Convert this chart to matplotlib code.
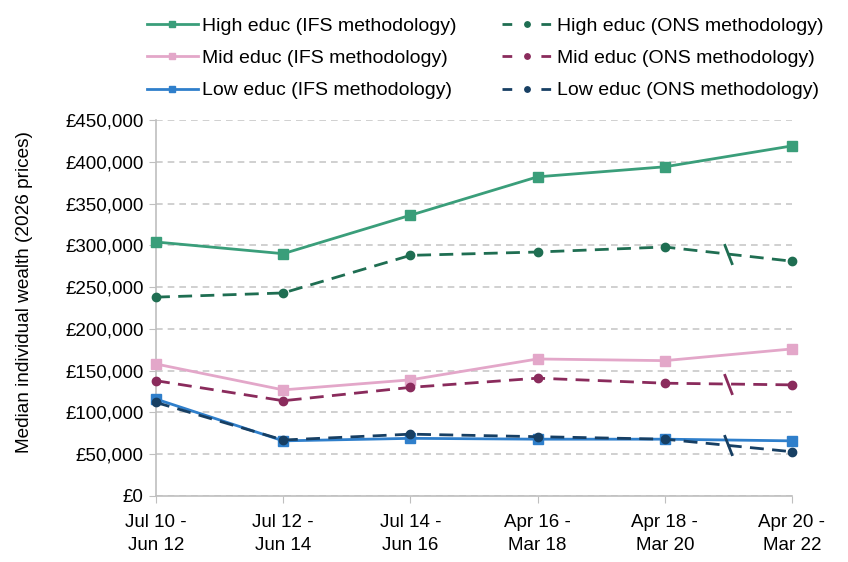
import matplotlib
matplotlib.use("Agg")
import matplotlib.pyplot as plt
from matplotlib.ticker import FuncFormatter
import numpy as np

periods = ["Jul 10 -\nJun 12", "Jul 12 -\nJun 14", "Jul 14 -\nJun 16",
           "Apr 16 -\nMar 18", "Apr 18 -\nMar 20", "Apr 20 -\nMar 22"]

high_ifs = [304000, 290000, 336000, 382000, 394000, 419000]
high_ons = [238000, 243000, 288000, 292000, 298000, 281000]
mid_ifs = [158000, 127000, 139000, 164000, 162000, 176000]
mid_ons = [138000, 114000, 130000, 141000, 135000, 133000]
low_ifs = [116000, 66000, 69000, 68000, 68000, 66000]
low_ons = [112000, 67000, 74000, 71000, 68000, 53000]

series = [
    ("High educ (IFS methodology)", high_ifs, "#3a9e7a", "-", "s"),
    ("High educ (ONS methodology)", high_ons, "#1f6e52", "--", "o"),
    ("Mid educ (IFS methodology)", mid_ifs, "#e3a7c9", "-", "s"),
    ("Mid educ (ONS methodology)", mid_ons, "#8a2b5c", "--", "o"),
    ("Low educ (IFS methodology)", low_ifs, "#2f7fcb", "-", "s"),
    ("Low educ (ONS methodology)", low_ons, "#173f63", "--", "o"),
]

plt.rcParams['font.family'] = ['Liberation Sans', 'DejaVu Sans']

fig = plt.figure(figsize=(8.48, 5.62), dpi=100)
ax = fig.add_axes([156/848, 1-496/562, (792-156)/848, (496-120)/562])

x = np.arange(len(periods))
handles = {}
for label, vals, col, ls, mk in series:
    ms = 6.5 if mk == "s" else 6
    (h,) = ax.plot(x, vals, color=col, linestyle=ls, marker=mk, markersize=ms,
                   linewidth=2, label=label, zorder=3, clip_on=False)
    if ls == "--":
        h.set_dashes((5, 3))
        bx = (x[-2] + x[-1]) / 2
        by = (vals[-2] + vals[-1]) / 2
        ax.plot([bx], [by], marker=[(-0.35, 0.9), (0.35, -0.9)], markersize=15,
                color=col, markeredgewidth=2, linestyle="none", zorder=4)
    handles[label] = h

ax.set_xlim(0, 5)
ax.set_ylim(0, 450000)
ax.set_yticks(np.arange(0, 450001, 50000))
ax.yaxis.set_major_formatter(FuncFormatter(lambda v, p: "£{:,.0f}".format(v)))
ax.set_xticks(x)
ax.set_xticklabels(periods, linespacing=1.45)
ax.tick_params(axis="both", labelsize=13.5, length=5, color="#bfbfbf", labelcolor="black")
ax.tick_params(axis="x", pad=8)
ax.tick_params(axis="y", pad=4)

ax.grid(axis="y", color="#c8c8c8", linestyle=(0, (4, 3)), linewidth=1.2)
ax.set_axisbelow(True)
for s in ["top", "right"]:
    ax.spines[s].set_visible(False)
for s in ["left", "bottom"]:
    ax.spines[s].set_color("#bfbfbf")
    ax.spines[s].set_linewidth(1.2)

ax.set_ylabel("Median individual wealth (2026 prices)", fontsize=13.7)
ax.yaxis.set_label_coords((33 - 156) / 636, (496 - 292) / 376)

order = [series[i][0] for i in (0, 2, 4, 1, 3, 5)]
leg = fig.legend([handles[l] for l in order], order, ncol=2, loc="upper left",
                 bbox_to_anchor=(147/848, 1.0 - 17/562), frameon=False, fontsize=14,
                 handlelength=2.6, columnspacing=2.3, labelspacing=0.76, handletextpad=0.25,
                 borderpad=0, borderaxespad=0, markerscale=0.65)
for lh in leg.legend_handles:
    if lh.get_marker() == "o":
        lh.set_dashes((3.5, 10.5))

fig.savefig("out.png", dpi=100)
